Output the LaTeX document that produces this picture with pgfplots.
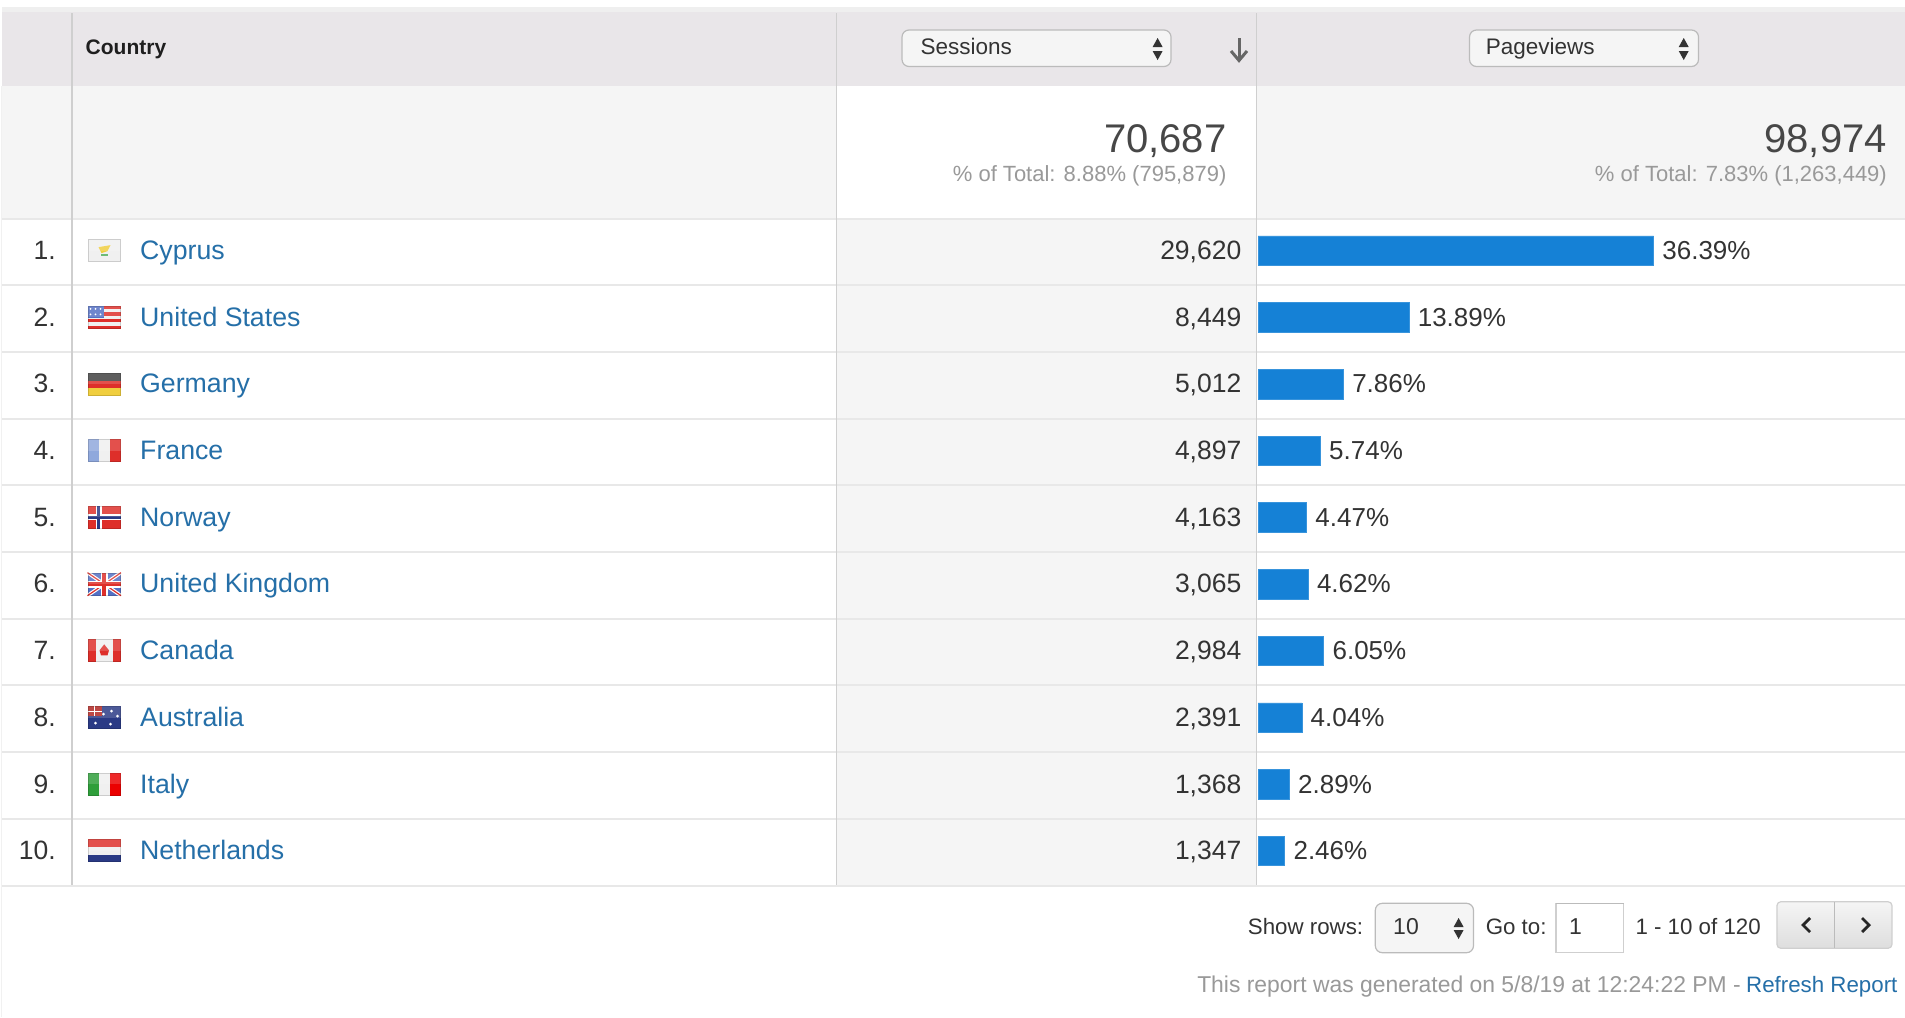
\documentclass[border=0pt]{standalone}
\usepackage{fontspec}
\setmainfont{Liberation Sans}
\usepackage{pgfplots}
\usepackage{pgfplotstable}
\pgfplotsset{compat=1.18}

\definecolor{headbg}{HTML}{E9E6E9}
\definecolor{softbg}{HTML}{F5F5F5}
\definecolor{rowline}{HTML}{E8E8E8}
\definecolor{vrule}{HTML}{CFCFCF}
\definecolor{barblue}{HTML}{1581D6}
\definecolor{link}{HTML}{256FA8}
\definecolor{ink}{HTML}{333333}
\definecolor{dim}{HTML}{999999}
\definecolor{boxline}{HTML}{BBBBBB}
% flag colours
\definecolor{fred}{HTML}{DE2F2A}
\definecolor{fnavy}{HTML}{2A3A85}
\definecolor{fblue}{HTML}{5470C4}
\definecolor{fpale}{HTML}{8FA8DC}
\definecolor{fwhite}{HTML}{F0F0F0}
\definecolor{fgreen}{HTML}{2E9E3A}
\definecolor{fgold}{HTML}{F0CE3E}

% size in page units, one pt is one pixel of the reference
\newcommand{\fs}[1]{\fontsize{#1}{#1}\selectfont}

\pgfplotstableread{
rank country sessions pageviews
1 Cyprus 29620 36.39
2 {United States} 8449 13.89
3 Germany 5012 7.86
4 France 4897 5.74
5 Norway 4163 4.47
6 {United Kingdom} 3065 4.62
7 Canada 2984 6.05
8 Australia 2391 4.04
9 Italy 1368 2.89
10 Netherlands 1347 2.46
}\rows

% up/down arrows of a select box
\newcommand{\updown}[3]{% x, top of up arrow, top of down arrow
  \fill[ink] (#1-5,#2+9) -- (#1,#2) -- (#1+5,#2+9) -- cycle;
  \fill[ink] (#1-5,#3) -- (#1,#3+9) -- (#1+5,#3) -- cycle;}

% flag on row #1, body drawn in a 33.5 x 23 box, with a little gloss on top
\newcommand{\flag}[2]{%
  \pgfmathsetmacro{\fy}{250.65+66.7*(#1-1)-11.5}
  \begin{scope}[shift={(87.5,\fy)}]
  #2
  \fill[white,opacity=0.16] (0,0) rectangle (33.5,11.5);
  \draw[black,opacity=0.15,line width=1pt] (0.5,0.5) rectangle (33,22.5);
  \end{scope}}

\begin{document}
\begin{tikzpicture}
\begin{scope}[x=1pt,y=-1pt,
  every node/.style={inner sep=0pt},
  tl/.style={anchor=base west},
  tr/.style={anchor=base east}]
\useasboundingbox (0,0) rectangle (1905,1017);
\fill[white] (0,0) rectangle (1905,1017);

% bands
\fill[rowline!70!white] (2,7) rectangle (1905,12);
\fill[headbg] (2,12) rectangle (1905,86);
\fill[softbg] (2,86) rectangle (836.6,218);
\fill[softbg] (1256.6,86) rectangle (1905,218);
\fill[softbg] (836.6,218) rectangle (1256.6,885);

% row rules
\foreach \y in {218.5,285.2,351.9,418.6,485.3,552,618.7,685.4,752.1,818.8,885.5}
  \draw[rowline,line width=2pt] (2,\y) -- (1905,\y);
\foreach \x in {72,836.6,1256.6}
  \draw[vrule,line width=1.5pt] (\x,13) -- (\x,885);
\draw[rowline!60!white,line width=1pt] (1.5,86) -- (1.5,1017);

% header
\node[tl,text=black!88] at (85.5,54) {\fs{21}\bfseries Country};
\draw[boxline,fill=softbg,line width=1.2pt,rounded corners=7pt] (902,30) rectangle (1171,66.5);
\node[tl,text=ink] at (920.5,54) {\fs{22.5}Sessions};
\updown{1157.6}{38}{51}
\draw[black!60,line width=3pt] (1239,38) -- (1239,60);
\draw[black!60,line width=3pt] (1231,51) -- (1239,60.5) -- (1247,51);
\draw[boxline,fill=softbg,line width=1.2pt,rounded corners=7pt] (1469.5,30) rectangle (1698.5,66.5);
\node[tl,text=ink] at (1485.7,54) {\fs{22.5}Pageviews};
\updown{1683.7}{38}{51}

% totals
\node[tr,text=black!72] at (1226.6,152) {\fs{40}70,687};
\node[tr,text=dim] at (1226.6,181.7) {\fs{22}\% of Total: 8.88\% (795,879)};
\node[tr,text=black!72] at (1887,152) {\fs{40}98,974};
\node[tr,text=dim] at (1887,181.7) {\fs{22}\% of Total: 7.83\% (1,263,449)};

% flags
\flag{1}{\fill[fwhite] (0,0) rectangle (33.5,23);
  \fill[fgold] (11,8) -- (23,6) -- (20,12) -- (14,14) -- cycle;
  \fill[fgreen!70!white] (13,14.5) rectangle (20,17);}
\flag{2}{\fill[fwhite] (0,0) rectangle (33.5,23);
  \foreach \s in {0,6.6,13.2,19.8}{\fill[fred] (0,\s) rectangle (33.5,\s+3.2);}
  \fill[fblue] (0,0) rectangle (16,12.5);
  \foreach \a in {3,8,13}{\fill[white] (\a,3) circle (1); \fill[white] (\a,8.5) circle (1);}}
\flag{3}{\fill[black!75] (0,0) rectangle (33.5,8);
  \fill[fred] (0,8) rectangle (33.5,15.5);
  \fill[fgold] (0,15.5) rectangle (33.5,23);}
\flag{4}{\fill[fpale] (0,0) rectangle (11.2,23);
  \fill[fwhite] (11.2,0) rectangle (22.3,23);
  \fill[fred] (22.3,0) rectangle (33.5,23);}
\flag{5}{\fill[fred] (0,0) rectangle (33.5,23);
  \fill[white] (8,0) rectangle (14,23); \fill[white] (0,8.5) rectangle (33.5,14.5);
  \fill[fnavy] (9.8,0) rectangle (12.2,23); \fill[fnavy] (0,10.3) rectangle (33.5,12.7);}
\flag{6}{\fill[fblue] (0,0) rectangle (33.5,23);
  \draw[white,line width=3.5pt] (0,0) -- (33.5,23) (0,23) -- (33.5,0);
  \draw[fred,line width=1.2pt] (0,0) -- (33.5,23) (0,23) -- (33.5,0);
  \fill[white] (13,0) rectangle (20.5,23); \fill[white] (0,8) rectangle (33.5,15);
  \fill[fred] (14.7,0) rectangle (18.8,23); \fill[fred] (0,9.5) rectangle (33.5,13.5);}
\flag{7}{\fill[fwhite] (0,0) rectangle (33.5,23);
  \fill[fred] (0,0) rectangle (8,23); \fill[fred] (25.5,0) rectangle (33.5,23);
  \fill[fred] (16.7,5) -- (21.5,11) -- (20,16) -- (13.5,16) -- (12,11) -- cycle;}
\flag{8}{\fill[fnavy] (0,0) rectangle (33.5,23);
  \fill[fred!80!black] (0,0) rectangle (14,10);
  \draw[white,line width=1pt] (0,5) -- (14,5) (7,0) -- (7,10);
  \foreach \a/\b in {8/17,24/5,30/10,23/18,16/8}{\fill[white] (\a,\b) circle (1.5);}}
\flag{9}{\fill[fgreen] (0,0) rectangle (11.2,23);
  \fill[fwhite] (11.2,0) rectangle (22.3,23);
  \fill[red!92!black] (22.3,0) rectangle (33.5,23);}
\flag{10}{\fill[fred] (0,0) rectangle (33.5,8);
  \fill[fwhite] (0,8) rectangle (33.5,15.5);
  \fill[fnavy] (0,15.5) rectangle (33.5,23);}

% pager
\node[tl,text=ink] at (1247.7,934) {\fs{22.3}Show rows:};
\draw[boxline,fill=softbg,line width=1.2pt,rounded corners=7pt] (1375.3,903.3) rectangle (1473.5,952.7);
\node[tl,text=ink] at (1393,934) {\fs{23}10};
\updown{1458.6}{918}{930}
\node[tl,text=ink] at (1485.6,934) {\fs{22.3}Go to:};
\draw[vrule,fill=white,line width=1.2pt] (1556,903.3) rectangle (1623.8,952.7);
\draw[boxline,line width=1.5pt] (1556,903.3) -- (1623.8,903.3);
\node[tl,text=ink] at (1569,934) {\fs{23}1};
\node[tl,text=ink] at (1635.3,934) {\fs{22.3}1 - 10 of 120};
\draw[boxline!70!white,top color=softbg,bottom color=black!13,line width=1.2pt,rounded corners=4pt] (1776.9,901.7) rectangle (1892,948.3);
\draw[boxline,line width=1pt] (1834,902) -- (1834,948);
\draw[black!85,line width=2.8pt] (1810,918) -- (1803,925) -- (1810,932);
\draw[black!85,line width=2.8pt] (1862,918) -- (1869,925) -- (1862,932);

% footer
\node[tl,text=link] at (1746,992.7) {\fs{22.3}Refresh Report};
\node[tr,text=dim] at (1741,992.7) {\fs{22.9}This report was generated on 5/8/19 at 12:24:22 PM -};
\end{scope}

% rows: rank, country and sessions in page pixels across, row number down
\begin{axis}[
  at={(0pt,-217.3pt)}, anchor=north west,
  scale only axis, width=1905pt, height=667pt,
  xmin=0, xmax=1905, ymin=0.5, ymax=10.5, y dir=reverse,
  hide axis, clip=false,
  /pgf/number format/assume math mode=true,
]
\addplot[draw=none, mark=none, point meta=explicit symbolic,
  nodes near coords={\pgfplotspointmeta.},
  every node near coord/.append style={anchor=base east, yshift=-8.8pt, inner sep=0pt,
    font=\fs{26.5}, text=ink}]
  table[x expr=56, y=rank, meta=rank] {\rows};
\addplot[draw=none, mark=none, point meta=explicit symbolic,
  nodes near coords,
  every node near coord/.append style={anchor=base west, yshift=-8.8pt, inner sep=0pt,
    font=\fs{26.7}, text=link}]
  table[x expr=140, y=rank, meta=country] {\rows};
\addplot[draw=none, mark=none, point meta=explicit,
  nodes near coords={\pgfmathprintnumber[fixed,precision=0,1000 sep={,}]{\pgfplotspointmeta}},
  every node near coord/.append style={anchor=base east, yshift=-8.8pt, inner sep=0pt,
    font=\fs{26.5}, text=ink}]
  table[x expr=1241.5, y=rank, meta=sessions] {\rows};
\end{axis}

% pageviews bars, x in percent
\begin{axis}[
  at={(1258pt,-217.3pt)}, anchor=north west,
  scale only axis, width=647pt, height=667pt,
  xmin=0, xmax=59.52, ymin=0.5, ymax=10.5, y dir=reverse,
  hide axis, clip=false,
  /pgf/number format/assume math mode=true,
  xbar, bar width=29.5pt, bar shift=0pt,
]
\addplot[fill=barblue, draw=barblue!85!white, line width=0.6pt, point meta=x,
  nodes near coords={\pgfmathprintnumber[fixed,fixed zerofill,precision=2]{\pgfplotspointmeta}\%},
  every node near coord/.append style={anchor=base west, inner sep=0pt, xshift=8.5pt, yshift=-8.8pt,
    font=\fs{26}, text=ink}]
  table[x=pageviews, y=rank] {\rows};
\end{axis}
\end{tikzpicture}
\end{document}
